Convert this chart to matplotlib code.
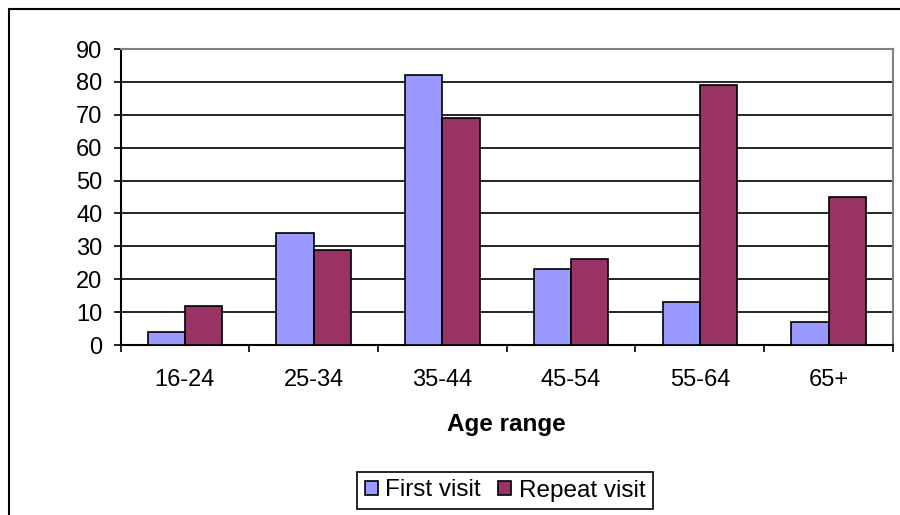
import numpy as np
import matplotlib.pyplot as plt
from matplotlib.patches import Rectangle

plt.rcParams['font.family'] = ['Liberation Sans', 'DejaVu Sans']

ages = ['16-24', '25-34', '35-44', '45-54', '55-64', '65+']
first_visit = [4, 34, 82, 23, 13, 7]
repeat_visit = [12, 29, 69, 26, 79, 45]

W, H = 900, 515
fig = plt.figure(figsize=(W/100, H/100), dpi=100)
ax = fig.add_axes([120.5/W, 1 - 345/H, (893 - 120.5)/W, (345 - 49)/H])

# outer chart border (right/bottom cut off like the original)
fig.add_artist(Rectangle((8.5/W, -0.05), 1.0, 1 - 8.5/H + 0.05, transform=fig.transFigure,
                         fill=False, edgecolor='black', linewidth=1.5))

x = np.arange(len(ages))
bw = 0.29
ax.bar(x - bw/2, first_visit, bw, color='#9999ff', edgecolor='black', linewidth=1.2,
       label='First visit', zorder=3)
ax.bar(x + bw/2, repeat_visit, bw, color='#993366', edgecolor='black', linewidth=1.2,
       label='Repeat visit', zorder=3)

ax.set_xlim(-0.5, len(ages) - 0.5)
ax.set_ylim(0, 90)
ax.set_yticks(range(0, 91, 10))
ax.yaxis.grid(True, color='black', linewidth=1.2, zorder=0)
ax.set_axisbelow(True)

ax.set_xticks(x)
ax.set_xticklabels(ages, fontsize=17)
ax.set_xticks(np.arange(-0.5, len(ages)), minor=True)
ax.tick_params(axis='x', which='major', length=0, pad=17)
ax.tick_params(axis='x', which='minor', length=5, width=1.2, direction='out')
ax.tick_params(axis='y', labelsize=17, length=5, width=1.2, pad=8)

for side in ['left', 'bottom']:
    ax.spines[side].set_linewidth(1.5)
for side in ['top', 'right']:
    ax.spines[side].set_color('#808080')
    ax.spines[side].set_linewidth(1.5)

ax.set_xlabel('Age range', fontsize=17.5, fontweight='bold', labelpad=16)

leg = fig.legend(loc='center', bbox_to_anchor=(505/W, 1 - 490.5/H), ncol=2, fontsize=17.5,
                 frameon=True, fancybox=False, edgecolor='black', framealpha=1,
                 handlelength=0.55, handleheight=0.55, handletextpad=0.3,
                 columnspacing=0.7, borderpad=0.3)
leg.get_frame().set_linewidth(1.2)

fig.savefig('out.png', dpi=100)
